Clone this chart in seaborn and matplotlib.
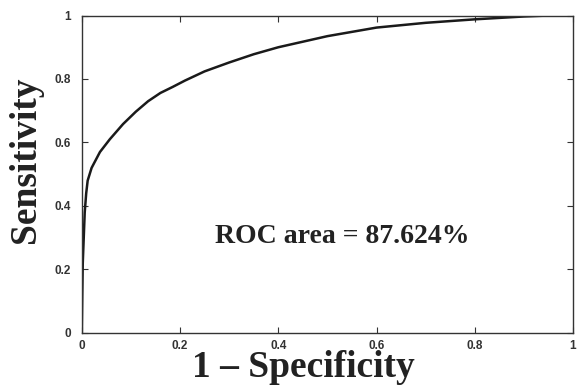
import matplotlib
matplotlib.use("Agg")
import matplotlib.pyplot as plt
import seaborn as sns
import pandas as pd

# Data
fpr = [0.0, 0.001, 0.002, 0.004, 0.006, 0.009, 0.012, 0.02, 0.037, 0.057, 0.084,
       0.11, 0.135, 0.16, 0.185, 0.21, 0.25, 0.3, 0.35, 0.4, 0.5, 0.6, 0.7, 0.8,
       0.9, 0.95, 1.0]
tpr = [0.0, 0.12, 0.22, 0.30, 0.38, 0.44, 0.48, 0.52, 0.57, 0.61, 0.658,
       0.697, 0.73, 0.756, 0.775, 0.795, 0.824, 0.852, 0.878, 0.9, 0.935, 0.962, 0.977, 0.988,
       0.997, 1.0, 1.0]
xticks = [0, 0.2, 0.4, 0.6, 0.8, 1]
xtick_labels = ["0", "0.2", "0.4", "0.6", "0.8", "1"]
yticks = [0, 0.2, 0.4, 0.6, 0.8, 1]
ytick_labels = ["0", "0.2", "0.4", "0.6", "0.8", "1"]
roc_text = "ROC area = 87.624%"
xlabel = "1 – Specificity"
ylabel = "Sensitivity"

sns.set_style("ticks")
plt.rcParams['font.family'] = ['Liberation Serif', 'DejaVu Serif']

df = pd.DataFrame({"fpr": fpr, "tpr": tpr})

fig = plt.figure(figsize=(5.8, 3.88), dpi=100)
ax = fig.add_axes([0.141, 0.142, 0.847, 0.818])
sns.lineplot(data=df, x="fpr", y="tpr", ax=ax, color="#1a1a1a", linewidth=1.8,
             estimator=None, sort=False)

ax.set_xlim(0, 1)
ax.set_ylim(0, 1)
ax.set_xticks(xticks)
ax.set_xticklabels(xtick_labels)
ax.set_yticks(yticks)
ax.set_yticklabels(ytick_labels)
for lab in ax.get_xticklabels() + ax.get_yticklabels():
    lab.set_family(['Liberation Sans', 'DejaVu Sans'])
    lab.set_fontweight('bold')
    lab.set_fontsize(8.5)
    lab.set_color('#222222')
ax.tick_params(direction='in', length=4, width=0.8, top=True, right=True,
               labelsize=8.5, colors='#333333')
ax.tick_params(axis='x', pad=5)
ax.tick_params(axis='y', pad=8)
for sp in ax.spines.values():
    sp.set_visible(True)
    sp.set_linewidth(1.0)
    sp.set_color('#333333')

ax.set_xlabel(xlabel, fontsize=27, fontweight='bold', color='#222222')
ax.set_ylabel(ylabel, fontsize=27, fontweight='bold', color='#222222')
ax.xaxis.set_label_coords(0.452, -0.055)
ax.yaxis.set_label_coords(-0.078, 0.547)

ax.text(0.271, 0.304, roc_text, transform=ax.transAxes, ha='left', va='center',
        fontsize=20, fontweight='bold', color='#222222')

fig.savefig("out.png", dpi=100, facecolor='white')
